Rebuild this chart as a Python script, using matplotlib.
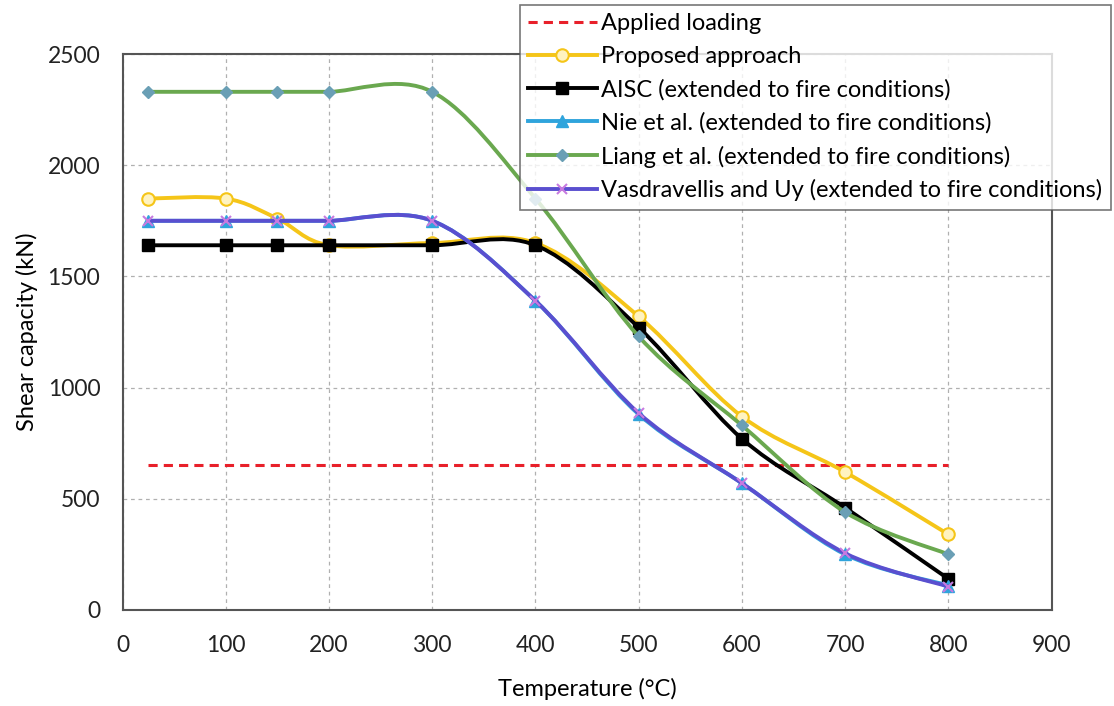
import numpy as np
import matplotlib
matplotlib.use("Agg")
import matplotlib.pyplot as plt
from matplotlib.path import Path
from matplotlib.patches import PathPatch
from matplotlib.lines import Line2D

plt.rcParams['font.family'] = ['Lato', 'DejaVu Sans']

temperature = [25, 100, 150, 200, 300, 400, 500, 600, 700, 800]
applied_loading = [650, 650, 650, 650, 650, 650, 650, 650, 650, 650]
proposed = [1850, 1850, 1760, 1640, 1650, 1650, 1320, 870, 620, 340]
aisc = [1640, 1640, 1640, 1640, 1640, 1640, 1270, 770, 460, 140]
nie = [1750, 1750, 1750, 1750, 1750, 1390, 880, 570, 250, 110]
liang = [2330, 2330, 2330, 2330, 2330, 1850, 1230, 830, 440, 250]
vasdravellis = [1750, 1750, 1750, 1750, 1750, 1390, 885, 570, 255, 105]

XMAX, YMAX = 900, 2500

fig = plt.figure(figsize=(11.14, 7.06), dpi=100)
ax = fig.add_axes([0.110, 0.136, 0.834, 0.7875])
ax.set_xlim(0, XMAX)
ax.set_ylim(0, YMAX)


def smooth_path(xs, ys, sx, sy):
    """Bezier path through the points, Catmull-Rom style tangents computed in
    screen-proportional units (like a spreadsheet 'smoothed line')."""
    px = np.asarray(xs, float) * sx
    py = np.asarray(ys, float) * sy
    n = len(px)
    verts = [(px[0], py[0])]
    codes = [Path.MOVETO]
    for i in range(n - 1):
        p0 = np.array([px[max(i - 1, 0)], py[max(i - 1, 0)]])
        p1 = np.array([px[i], py[i]])
        p2 = np.array([px[i + 1], py[i + 1]])
        p3 = np.array([px[min(i + 2, n - 1)], py[min(i + 2, n - 1)]])
        c1 = p1 + (p2 - p0) / 6.0
        c2 = p2 - (p3 - p1) / 6.0
        verts += [tuple(c1), tuple(c2), tuple(p2)]
        codes += [Path.CURVE4] * 3
    verts = [(vx / sx, vy / sy) for vx, vy in verts]
    return Path(verts, codes)


# screen scale: pixels per data unit
SX = 929 / XMAX
SY = 556 / YMAX

series = [
    ("Proposed approach", proposed, "#f5c518", dict(marker="o", ms=9, mfc="#fff3c0", mec="#f5c518", mew=1.5)),
    ("AISC (extended to fire conditions)", aisc, "#000000", dict(marker="s", ms=9, mfc="#000000", mec="#000000")),
    ("Nie et al. (extended to fire conditions)", nie, "#2fa4dc", dict(marker="^", ms=8, mfc="#2fa4dc", mec="#2fa4dc")),
    ("Liang et al. (extended to fire conditions)", liang, "#6aa84f", dict(marker="D", ms=6, mfc="#6a9fb5", mec="#6a9fb5")),
    ("Vasdravellis and Uy (extended to fire conditions)", vasdravellis, "#5a4fcf", dict(marker="x", ms=7, mec="#c77ae0", mew=1.5)),
]

ax.grid(True, color="#b0b0b0", linestyle=(0, (3, 3)), linewidth=0.9)
ax.set_axisbelow(True)

handles = []
ax.plot(temperature, applied_loading, color="#e8202a", linestyle=(0, (3, 2)), linewidth=2.2, zorder=3)
handles.append(Line2D([], [], color="#e8202a", linestyle=(0, (3, 2)), linewidth=2.2, label="Applied loading"))

for z, (label, vals, col, mk) in enumerate(series):
    path = smooth_path(temperature, vals, SX, SY)
    ax.add_patch(PathPatch(path, facecolor="none", edgecolor=col, linewidth=2.8, zorder=4 + z))
    ax.plot(temperature, vals, linestyle="none", zorder=4.5 + z, **mk)
    handles.append(Line2D([], [], color=col, linewidth=2.8, label=label, **mk))

for s in ax.spines.values():
    s.set_color("#555555")
    s.set_linewidth(1.5)
ax.set_xticks(range(0, 901, 100))
ax.set_yticks(range(0, 2501, 500))
ax.tick_params(length=0, labelsize=16.5, colors="#222222")
ax.tick_params(axis="y", pad=16)
ax.tick_params(axis="x", pad=18)
ax.set_xlabel("Temperature (°C)", fontsize=17, labelpad=16)
ax.set_ylabel("Shear capacity (kN)", fontsize=17, labelpad=7)

leg = fig.legend(handles=handles, loc="upper right", bbox_to_anchor=(0.997, 0.993),
                 fontsize=17, frameon=True, fancybox=False, edgecolor="#555555",
                 handlelength=2.9, handletextpad=0.2, borderpad=0.35, labelspacing=0.5,
                 borderaxespad=0.0)
leg.get_frame().set_linewidth(1.2)
leg.set_zorder(20)

fig.savefig("out.png", dpi=100)
